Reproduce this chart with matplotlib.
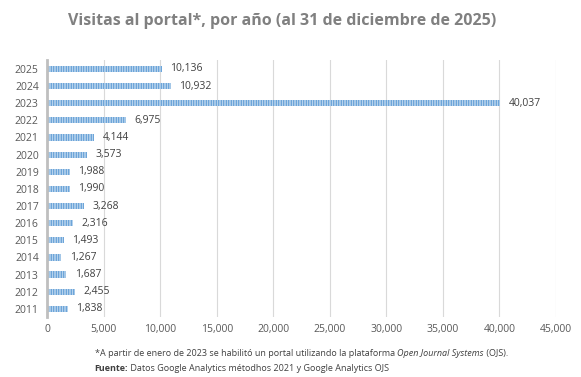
import matplotlib.pyplot as plt

years = ['2011', '2012', '2013', '2014', '2015', '2016', '2017', '2018',
         '2019', '2020', '2021', '2022', '2023', '2024', '2025']
visitas = [1838, 2455, 1687, 1267, 1493, 2316, 3268, 1990,
           1988, 3573, 4144, 6975, 40037, 10932, 10136]

plt.rcParams['font.family'] = ['Open Sans', 'DejaVu Sans']
plt.rcParams['hatch.color'] = 'white'
plt.rcParams['hatch.linewidth'] = 0.4

fig = plt.figure(figsize=(5.81, 3.77), dpi=100)
ax = fig.add_axes([0.081, 0.158, 0.876, 0.682])

y = list(range(len(years)))
ax.barh(y, visitas, height=0.36, color='#5B9BD5', edgecolor='white',
        linewidth=0, hatch='||||||||||')
for yi, v in zip(y, visitas):
    ax.text(v + 750, yi, f'{v:,}', va='center', ha='left', fontsize=7.5, color='#404040')

ax.set_xlim(0, 45000)
ax.set_ylim(-0.5, len(years) - 0.5)
ax.set_xticks(range(0, 45001, 5000))
ax.set_xticklabels([f'{t:,}' for t in range(0, 45001, 5000)])
ax.set_yticks(y)
ax.set_yticklabels(years)
ax.tick_params(axis='both', length=0, labelsize=7.5, labelcolor='#595959')
ax.tick_params(axis='x', pad=5)
ax.tick_params(axis='y', pad=6)
ax.xaxis.grid(True, color='#D9D9D9', linewidth=0.8)
ax.set_axisbelow(True)
for s in ['top', 'right', 'bottom']:
    ax.spines[s].set_visible(False)
ax.spines['left'].set_color('#BFBFBF')
ax.spines['left'].set_linewidth(2)

fig.text(0.486, 0.945, 'Visitas al portal*, por año (al 31 de diciembre de 2025)',
         ha='center', va='center', fontsize=11.5, fontweight='bold', color='#808080')

# notas al pie
t1 = fig.text(0.163, 0.055, '*A partir de enero de 2023 se habilitó un portal utilizando la plataforma ',
              fontsize=6.5, color='#404040')
a2 = ax.annotate('Open Journal Systems', xy=(1, 0), xycoords=t1, va='bottom',
                 fontsize=6.5, color='#404040', style='italic', annotation_clip=False)
ax.annotate(' (OJS).', xy=(1, 0), xycoords=a2, va='bottom',
            fontsize=6.5, color='#404040', annotation_clip=False)
f1 = fig.text(0.163, 0.017, 'Fuente:', fontsize=6.5, color='#404040', fontweight='bold')
ax.annotate(' Datos Google Analytics métodhos 2021 y Google Analytics OJS', xy=(1, 0),
            xycoords=f1, va='bottom', fontsize=6.5, color='#404040', annotation_clip=False)

fig.savefig('out.png', dpi=100)
